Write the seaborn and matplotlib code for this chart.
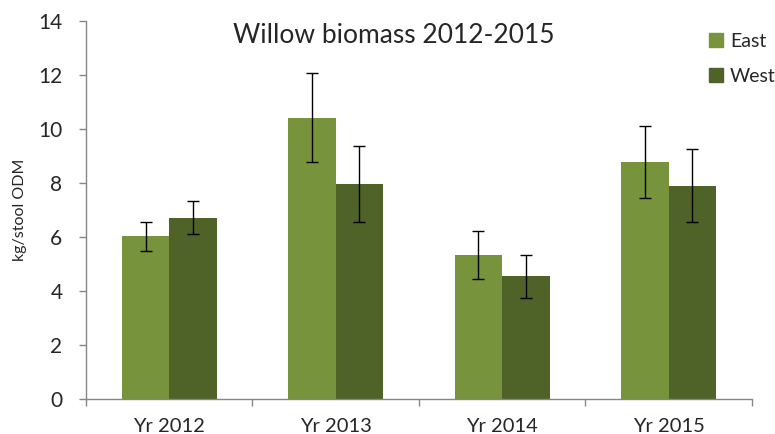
import numpy as np
import pandas as pd
import matplotlib
matplotlib.use("Agg")
import matplotlib.pyplot as plt
from matplotlib.lines import Line2D
import seaborn as sns

# Data
years = ['Yr 2012', 'Yr 2013', 'Yr 2014', 'Yr 2015']
east = [6.03, 10.42, 5.36, 8.78]
west = [6.73, 7.97, 4.55, 7.90]
east_err = [0.54, 1.65, 0.89, 1.32]
west_err = [0.60, 1.41, 0.78, 1.35]

east_color = '#77933C'
west_color = '#4F6228'
axis_gray = '#868686'

df = pd.DataFrame({
    'year': years * 2,
    'site': ['East'] * 4 + ['West'] * 4,
    'biomass': east + west,
})

sns.set_style('white')
plt.rcParams['font.family'] = ['Lato', 'DejaVu Sans']

fig = plt.figure(figsize=(7.75, 4.34), dpi=100)
ax = fig.add_axes([0.111, 0.0795, 0.859, 0.8721])

sns.barplot(data=df, x='year', y='biomass', hue='site', order=years,
            hue_order=['East', 'West'], palette=[east_color, west_color],
            width=0.57, errorbar=None, saturation=1, legend=False, ax=ax)

# error bars placed on the bar centres that seaborn computed
errs = east_err + west_err
for patch, err in zip(ax.patches, errs):
    cx = patch.get_x() + patch.get_width() / 2
    ax.errorbar(cx, patch.get_height(), yerr=err, fmt='none', ecolor='black',
                elinewidth=1, capsize=4.5, capthick=1)
    patch.set_edgecolor('none')

ax.set_ylim(0, 14)
ax.set_xlim(-0.5, 3.5)
ax.set_yticks(np.arange(0, 15, 2))
ax.tick_params(axis='y', labelsize=15, length=5, width=1, color=axis_gray,
               direction='out', left=True, pad=12)
ax.set_xticks(np.arange(-0.5, 4, 1), minor=True)
ax.tick_params(axis='x', which='minor', length=5, width=1, color=axis_gray,
               direction='out', bottom=True)
ax.tick_params(axis='x', which='major', length=0, labelsize=14.5, pad=13)

for side in ['top', 'right']:
    ax.spines[side].set_visible(False)
for side in ['left', 'bottom']:
    ax.spines[side].set_color(axis_gray)
    ax.spines[side].set_linewidth(1)

ax.set_xlabel('')
ax.set_ylabel('kg/stool ODM', fontsize=11.5, labelpad=8)
ax.text(0.462, 0.963, 'Willow biomass 2012-2015', transform=ax.transAxes,
        ha='center', va='center', fontsize=19)

handles = [Line2D([], [], marker='s', linestyle='none', markersize=10,
                  markerfacecolor=c, markeredgecolor=c) for c in (east_color, west_color)]
ax.legend(handles, ['East', 'West'], loc='upper left', bbox_to_anchor=(0.925, 0.985),
          frameon=False, fontsize=14, labelspacing=0.95, handletextpad=0.25,
          handlelength=0.9, borderaxespad=0, borderpad=0.3)

fig.savefig('out.png', dpi=100)
